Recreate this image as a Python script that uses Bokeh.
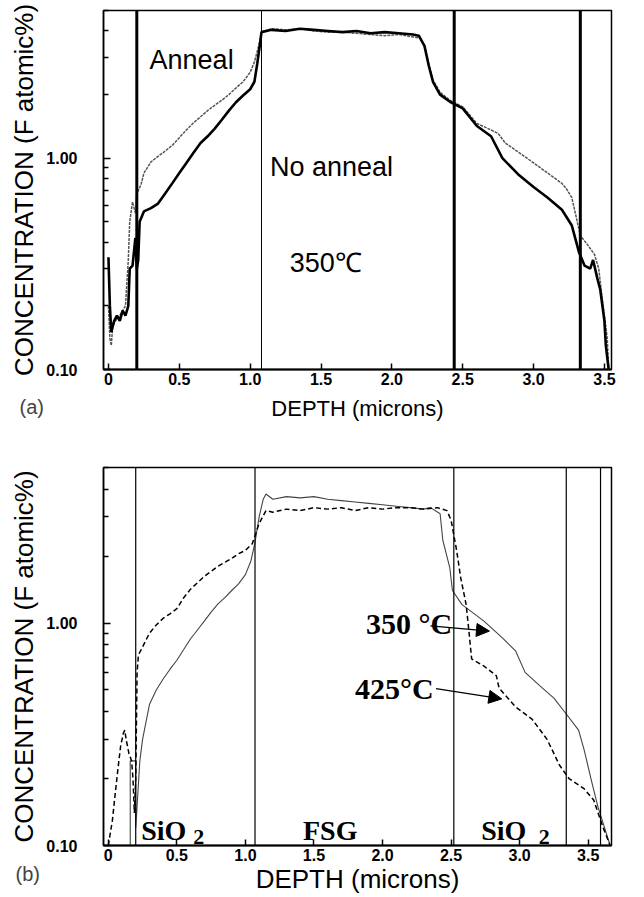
from bokeh.plotting import figure
from bokeh.models import (FixedTicker, PrintfTickFormatter, CustomJSTickFormatter,
                          Label, Span, Arrow, NormalHead, Title)
from bokeh.layouts import column
from bokeh.embed import file_html
from bokeh.resources import INLINE

# ---------------- data: panel (a) ----------------
a_noanneal_x = [0.0, 0.01, 0.02, 0.04, 0.06, 0.08, 0.1, 0.12, 0.14, 0.15,
                0.17, 0.19, 0.2, 0.21, 0.22, 0.25, 0.3, 0.35, 0.4, 0.45,
                0.5, 0.55, 0.6, 0.65, 0.7, 0.75, 0.8, 0.85, 0.9, 0.95,
                1.0, 1.03, 1.05, 1.07, 1.08, 1.15, 1.25, 1.35, 1.45, 1.55,
                1.65, 1.75, 1.85, 1.95, 2.05, 2.15, 2.19, 2.23, 2.26, 2.29,
                2.34, 2.41, 2.5, 2.6, 2.7, 2.78, 2.89, 3.0, 3.1, 3.2,
                3.27, 3.32, 3.36, 3.4, 3.42, 3.45, 3.47, 3.5, 3.51, 3.53]
a_noanneal_y = [0.34, 0.2, 0.15, 0.17, 0.18, 0.17, 0.19, 0.18, 0.2, 0.3,
                0.31, 0.42, 0.3, 0.33, 0.5, 0.56, 0.58, 0.61, 0.68, 0.76,
                0.85, 0.95, 1.06, 1.18, 1.27, 1.38, 1.52, 1.68, 1.84, 1.98,
                2.12, 2.3, 2.8, 3.5, 3.95, 4.05, 4.0, 4.1, 4.05, 4.0,
                3.95, 4.0, 3.9, 3.95, 3.9, 3.85, 3.8, 3.4, 2.75, 2.3,
                2.0, 1.85, 1.72, 1.42, 1.27, 1.0, 0.84, 0.73, 0.65, 0.57,
                0.48, 0.36, 0.31, 0.3, 0.33, 0.27, 0.24, 0.17, 0.13, 0.1]

a_anneal_x = [0.0, 0.01, 0.02, 0.03, 0.05, 0.08, 0.1, 0.12, 0.14, 0.15,
              0.17, 0.19, 0.2, 0.23, 0.25, 0.3, 0.35, 0.4, 0.45, 0.5,
              0.55, 0.6, 0.65, 0.7, 0.75, 0.8, 0.85, 0.9, 0.95, 1.0,
              1.03, 1.06, 1.08, 1.15, 1.25, 1.35, 1.45, 1.55, 1.65, 1.75,
              1.85, 1.95, 2.05, 2.15, 2.2, 2.23, 2.26, 2.29, 2.34, 2.41,
              2.5, 2.6, 2.7, 2.75, 2.8, 2.9, 3.0, 3.1, 3.2, 3.23,
              3.27, 3.3, 3.33, 3.38, 3.43, 3.46, 3.48, 3.5, 3.52, 3.53]
a_anneal_y = [0.2, 0.14, 0.13, 0.16, 0.17, 0.18, 0.19, 0.2, 0.33, 0.5,
              0.62, 0.55, 0.68, 0.75, 0.85, 0.96, 1.02, 1.08, 1.15, 1.25,
              1.36, 1.47, 1.57, 1.68, 1.78, 1.88, 2.0, 2.15, 2.3, 2.55,
              2.85, 3.4, 3.95, 4.1, 4.05, 4.1, 4.0, 3.95, 3.95, 3.9,
              3.85, 3.8, 3.85, 3.75, 3.7, 3.4, 2.8, 2.35, 2.05, 1.88,
              1.75, 1.46, 1.36, 1.31, 1.18, 1.06, 0.95, 0.85, 0.76, 0.72,
              0.65, 0.53, 0.43, 0.39, 0.35, 0.3, 0.23, 0.18, 0.14, 0.1]

a_bounds_thick = [0.2, 2.44, 3.33]
a_bounds_thin = [1.08]

# ---------------- data: panel (b) ----------------
b_350_x = [0.16, 0.16, 0.2, 0.2, 0.21, 0.22, 0.23, 0.25, 0.3, 0.35,
           0.4, 0.45, 0.5, 0.55, 0.6, 0.65, 0.7, 0.75, 0.8, 0.85,
           0.9, 0.95, 1.0, 1.04, 1.07, 1.1, 1.13, 1.15, 1.2, 1.3,
           1.4, 1.5, 1.6, 1.7, 1.8, 1.9, 2.0, 2.1, 2.2, 2.3,
           2.35, 2.42, 2.44, 2.49, 2.51, 2.58, 2.74, 2.88, 2.97, 3.04,
           3.15, 3.25, 3.34, 3.43, 3.47, 3.52, 3.57, 3.62, 3.66]
b_350_y = [0.1, 0.24, 0.24, 0.12, 0.15, 0.19, 0.24, 0.3, 0.43, 0.5,
           0.56, 0.62, 0.68, 0.76, 0.85, 0.93, 1.02, 1.12, 1.22, 1.3,
           1.4, 1.5, 1.65, 1.9, 2.3, 3.0, 3.6, 3.8, 3.6, 3.7,
           3.65, 3.7, 3.6, 3.55, 3.5, 3.45, 3.4, 3.35, 3.3, 3.25,
           3.3, 3.1, 2.35, 1.78, 1.4, 1.21, 1.02, 0.85, 0.75, 0.6,
           0.52, 0.46, 0.39, 0.33, 0.27, 0.2, 0.15, 0.12, 0.1]

b_425_x = [0.0, 0.03, 0.05, 0.07, 0.09, 0.11, 0.12, 0.13, 0.15, 0.17,
           0.18, 0.19, 0.2, 0.21, 0.22, 0.25, 0.3, 0.35, 0.4, 0.45,
           0.5, 0.55, 0.6, 0.7, 0.8, 0.9, 0.95, 1.0, 1.05, 1.1,
           1.15, 1.2, 1.3, 1.4, 1.5, 1.6, 1.7, 1.8, 1.9, 2.0,
           2.1, 2.2, 2.3, 2.4, 2.47, 2.5, 2.54, 2.57, 2.61, 2.63,
           2.65, 2.74, 2.83, 2.85, 2.97, 3.09, 3.2, 3.29, 3.36, 3.47,
           3.54, 3.61, 3.66]
b_425_y = [0.1, 0.13, 0.17, 0.22, 0.28, 0.32, 0.33, 0.3, 0.26, 0.24,
           0.2, 0.14, 0.2, 0.6, 0.72, 0.78, 0.9, 0.98, 1.05, 1.1,
           1.16, 1.3, 1.42, 1.62, 1.8, 1.95, 2.05, 2.12, 2.27, 2.8,
           3.2, 3.15, 3.25, 3.2, 3.3, 3.25, 3.3, 3.2, 3.3, 3.25,
           3.3, 3.3, 3.25, 3.3, 3.2, 2.9, 2.13, 1.6, 1.21, 0.92,
           0.69, 0.64, 0.58, 0.51, 0.42, 0.37, 0.3, 0.23, 0.2, 0.18,
           0.16, 0.12, 0.1]

b_bounds = [0.2, 1.07, 2.52, 3.34, 3.59]

x_ticks = [0, 0.5, 1.0, 1.5, 2.0, 2.5, 3.0, 3.5]
y_major = [0.1, 1.0]
y_minor = [0.2, 0.3, 0.4, 0.5, 0.6, 0.7, 0.8, 0.9, 2, 3, 4, 5]

SANS = "Liberation Sans"
SERIF = "Liberation Serif"


def style(p, ylab_size, xlab_size, xlab_standoff):
    p.xgrid.visible = False
    p.ygrid.visible = False
    p.outline_line_color = "black"
    p.outline_line_width = 1.5
    p.background_fill_color = "white"
    p.border_fill_color = "white"
    xa = p.xaxis[0]
    xa.ticker = FixedTicker(ticks=x_ticks, minor_ticks=[])
    xa.formatter = CustomJSTickFormatter(code="return tick == 0 ? '0' : tick.toFixed(1);")
    xa.major_tick_in = 6
    xa.major_tick_out = 0
    xa.minor_tick_line_color = None
    xa.axis_line_width = 2
    xa.major_tick_line_width = 1.5
    xa.major_label_text_font = SANS
    xa.major_label_text_font_style = "bold"
    xa.major_label_text_font_size = "16px"
    xa.major_label_text_color = "black"
    xa.major_label_standoff = 3
    xa.axis_label = "DEPTH (microns)"
    xa.axis_label_text_font = SANS
    xa.axis_label_text_font_style = "normal"
    xa.axis_label_text_font_size = xlab_size
    xa.axis_label_text_color = "black"
    xa.axis_label_standoff = xlab_standoff
    ya = p.yaxis[0]
    ya.ticker = FixedTicker(ticks=y_major, minor_ticks=y_minor)
    ya.formatter = PrintfTickFormatter(format="%.2f")
    ya.major_tick_in = 7
    ya.major_tick_out = 0
    ya.minor_tick_in = 5
    ya.minor_tick_out = 0
    ya.axis_line_width = 1.5
    ya.major_tick_line_width = 1.5
    ya.minor_tick_line_width = 1.5
    ya.major_label_text_font = SANS
    ya.major_label_text_font_style = "bold"
    ya.major_label_text_font_size = "16px"
    ya.major_label_text_color = "black"
    ya.major_label_standoff = 26
    ya.axis_label = "CONCENTRATION (F atomic%)"
    ya.axis_label_text_font = SANS
    ya.axis_label_text_font_style = "normal"
    ya.axis_label_text_font_size = ylab_size
    ya.axis_label_text_color = "black"
    ya.axis_label_standoff = 4


def panel_tag(p, text, offset, standoff):
    p.add_layout(Title(text=text, align="left", offset=offset, vertical_align="top",
                       text_font=SANS, text_font_style="normal", text_font_size="20px",
                       standoff=standoff), "below")


# ---------------- panel (a) ----------------
p1 = figure(width=644, height=430, x_range=(-0.035, 3.55), y_range=(0.1, 5.0),
            y_axis_type="log", output_backend="svg", toolbar_location=None,
            min_border_left=99, min_border_right=33, min_border_top=10, min_border_bottom=61)
style(p1, "26px", "22px", 8)

for v in a_bounds_thick:
    p1.add_layout(Span(location=v, dimension="height", line_color="black", line_width=3))
for v in a_bounds_thin:
    p1.add_layout(Span(location=v, dimension="height", line_color="black", line_width=1))

p1.line(a_anneal_x, a_anneal_y, line_color="#555555", line_width=1.5, line_dash="3 1")
p1.line(a_noanneal_x, a_noanneal_y, line_color="black", line_width=2.6)

for txt, x, y in [("Anneal", 0.29, 2.91), ("No anneal", 1.14, 0.906), ("350\u2103", 1.28, 0.318)]:
    p1.add_layout(Label(x=x, y=y, text=txt, text_font=SANS, text_font_size="27px",
                        text_baseline="alphabetic", text_color="black"))

panel_tag(p1, "(a)", -84, -56)

# ---------------- panel (b) ----------------
p2 = figure(width=644, height=466, x_range=(-0.035, 3.67), y_range=(0.1, 5.0),
            y_axis_type="log", output_backend="svg", toolbar_location=None,
            min_border_left=103, min_border_right=2, min_border_top=37, min_border_bottom=51)
style(p2, "26px", "26px", 0)

for v in b_bounds:
    p2.add_layout(Span(location=v, dimension="height", line_color="black", line_width=1.2))

p2.line(b_350_x, b_350_y, line_color="#444444", line_width=1.1)
p2.line(b_425_x, b_425_y, line_color="black", line_width=1.5, line_dash="5 3")

serif_labels = [("SiO", 0.24, 0.117, "28px"), ("2", 0.62, 0.109, "22px"),
                ("FSG", 1.42, 0.117, "28px"),
                ("SiO", 2.72, 0.117, "28px"), ("2", 3.14, 0.109, "22px"),
                ("350 \u00b0C", 1.88, 1.0, "30px"), ("425\u00b0C", 1.80, 0.508, "30px")]
for txt, x, y, fs in serif_labels:
    p2.add_layout(Label(x=x, y=y, text=txt, text_font=SERIF, text_font_style="bold",
                        text_font_size=fs, text_baseline="alphabetic", text_color="black"))

for xs, ys, xe, ye in [(2.35, 0.97, 2.78, 0.92), (2.39, 0.507, 2.87, 0.456)]:
    p2.add_layout(Arrow(x_start=xs, y_start=ys, x_end=xe, y_end=ye, line_width=1.3,
                        end=NormalHead(size=13, fill_color="black", line_color="black")))

panel_tag(p2, "(b)", -88, -68)

layout = column(p1, p2, spacing=0)
open("out.html", "w").write(file_html(layout, INLINE))
